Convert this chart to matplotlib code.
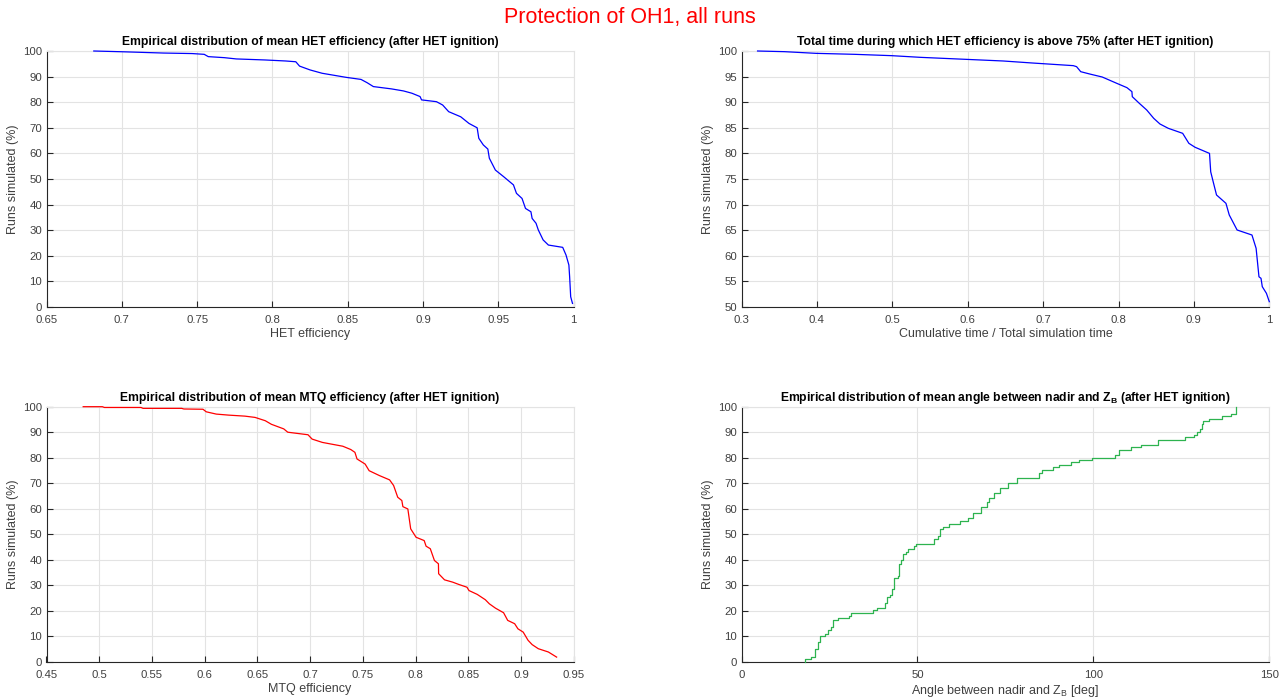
import matplotlib
matplotlib.use("Agg")
import matplotlib.pyplot as plt
from matplotlib.ticker import FuncFormatter

plt.rcParams['font.family'] = ['Liberation Sans', 'DejaVu Sans']
plt.rcParams['mathtext.fontset'] = 'custom'
plt.rcParams['mathtext.rm'] = 'Liberation Sans'
plt.rcParams['mathtext.it'] = 'Liberation Sans:italic'
plt.rcParams['mathtext.bf'] = 'Liberation Sans:bold'

# ---- data: mean HET efficiency (complementary distribution) ----
het_eff = [0.6814, 0.7006, 0.7276, 0.7466, 0.7547, 0.7574, 0.768, 0.776, 0.795, 0.8088,
           0.8155, 0.818, 0.825, 0.833, 0.849, 0.8588, 0.8629, 0.867, 0.879, 0.887,
           0.8926, 0.898, 0.899, 0.9089, 0.913, 0.917, 0.925, 0.9305, 0.9359, 0.937,
           0.940, 0.943, 0.944, 0.948, 0.9535, 0.960, 0.962, 0.9657, 0.968, 0.9716,
           0.9724, 0.975, 0.9765, 0.9797, 0.9832, 0.9927, 0.9949, 0.9968, 0.9973, 0.998,
           0.9992]
het_pct = [100, 99.7, 99.2, 99.0, 98.7, 97.8, 97.4, 96.9, 96.5, 96.1,
           95.8, 94.1, 92.6, 91.3, 89.7, 88.9, 87.6, 86.1, 85.2, 84.4,
           83.5, 82.2, 80.9, 80.2, 78.9, 76.3, 74.3, 71.7, 70.0, 65.9,
           63.3, 61.7, 58.1, 53.5, 50.9, 47.7, 44.4, 42.4, 38.5, 37.2,
           34.6, 32.7, 30.1, 26.2, 24.2, 23.3, 20.3, 16.4, 11.8, 4.0,
           1.4]

# ---- data: time fraction with HET efficiency above 75% ----
time_frac = [0.3213, 0.357, 0.399, 0.45, 0.499, 0.5375, 0.5977, 0.647, 0.6853, 0.699,
             0.740, 0.7444, 0.7499, 0.762, 0.7784, 0.7975, 0.8112, 0.8178, 0.8183, 0.8276,
             0.8374, 0.8467, 0.855, 0.866, 0.8851, 0.8933, 0.9015, 0.9207, 0.9223, 0.9261,
             0.93, 0.9425, 0.9469, 0.9573, 0.977, 0.9825, 0.9863, 0.989, 0.9907, 0.9962,
             1.0]
time_pct = [100, 99.87, 99.54, 99.35, 99.09, 98.76, 98.37, 98.05, 97.66, 97.53,
            97.14, 96.94, 95.96, 95.5, 94.92, 93.7, 92.84, 92.06, 91.08, 89.78,
            88.48, 86.85, 85.74, 84.9, 83.92, 81.97, 81.2, 80.0, 76.4, 74.15,
            71.88, 70.25, 67.97, 65.04, 64.06, 61.46, 55.9, 55.6, 53.97, 52.67,
            51.04]

# ---- data: mean MTQ efficiency (complementary distribution) ----
mtq_eff = [0.4848, 0.503, 0.5049, 0.5396, 0.5416, 0.5783, 0.5802, 0.5984, 0.6015, 0.611,
           0.6227, 0.6382, 0.6478, 0.6575, 0.6633, 0.675, 0.6788, 0.6845, 0.698, 0.7019,
           0.7116, 0.7193, 0.731, 0.7386, 0.7425, 0.7445, 0.7522, 0.756, 0.7657, 0.7754,
           0.7792, 0.7831, 0.787, 0.788, 0.7927, 0.7954, 0.8005, 0.8082, 0.810, 0.814,
           0.8179, 0.8217, 0.8219, 0.8275, 0.8352, 0.841, 0.8488, 0.8507, 0.8585, 0.8662,
           0.87, 0.8758, 0.8835, 0.8874, 0.894, 0.8971, 0.9021, 0.9067, 0.9106, 0.9164,
           0.926, 0.9338]
mtq_pct = [100, 100, 99.7, 99.7, 99.35, 99.35, 99.1, 99.0, 98.0, 97.1,
           96.7, 96.3, 95.8, 94.5, 93.1, 91.3, 90.0, 89.7, 89.0, 87.3,
           86.0, 85.4, 84.5, 83.2, 82.1, 79.5, 77.5, 74.9, 73.0, 71.3,
           69.1, 64.5, 63.2, 60.8, 59.9, 52.1, 48.8, 47.5, 45.3, 44.3,
           39.7, 38.4, 34.5, 32.1, 31.2, 30.3, 29.2, 27.9, 26.4, 24.3,
           22.7, 21.0, 19.2, 16.2, 14.9, 12.9, 11.6, 8.4, 6.7, 5.1,
           3.8, 1.8]

# ---- data: mean angle between nadir and Z_B (empirical CDF, steps) ----
angle_deg = [18.1, 18.1, 19.8, 21.0, 21.6, 22.4, 23.6, 24.7, 25.3, 26.0,
             27.4, 30.6, 31.2, 37.4, 38.6, 40.9, 41.3, 42.1, 42.7, 43.3,
             44.4, 44.8, 45.4, 46.0, 46.8, 47.4, 49.1, 49.7, 54.6, 55.8,
             56.5, 57.3, 59.1, 62.0, 64.4, 65.9, 68.2, 69.7, 70.3, 71.7,
             73.5, 75.8, 78.2, 84.6, 85.5, 88.4, 90.2, 93.7, 96.0, 99.6,
             106.2, 107.4, 110.7, 113.6, 118.3, 126.0, 128.6, 129.5, 130.4, 130.9,
             131.2, 133.0, 136.5, 139.2, 140.4]
angle_pct = [0, 1, 2, 5, 7.7, 10, 11, 12.3, 13.6, 16.2,
             17, 18.1, 19.2, 20.1, 21, 23, 25.3, 26, 28.6, 32.8,
             33.8, 38.4, 39.7, 42.3, 43.2, 44.3, 45.2, 46.2, 48.2, 49.1,
             52.1, 53.0, 54.0, 55.1, 56.4, 58.2, 60.6, 62.5, 64.2, 66.2,
             68.1, 70.1, 72.1, 73.9, 75.2, 76.2, 77.2, 78.2, 79.1, 79.9,
             81.2, 83.2, 84.1, 85.1, 86.9, 88.0, 88.9, 90.2, 91.3, 93.2,
             94.3, 95.2, 96.2, 97.1, 100]

W, H = 1287, 697
fig = plt.figure(figsize=(W / 100, H / 100), dpi=100)

def box(l, t, r, b):
    return [l / W, 1 - b / H, (r - l) / W, (b - t) / H]

AX_COL = '#262626'
TICK_COL = '#404040'
GRID_COL = '#e3e3e3'
TITLE_FS = 8.7
LABEL_FS = 9

def style(ax):
    ax.grid(True, color=GRID_COL, linewidth=0.8)
    ax.set_axisbelow(True)
    for s in ['top', 'right']:
        ax.spines[s].set_color(GRID_COL)
        ax.spines[s].set_linewidth(0.8)
    for s in ['left', 'bottom']:
        ax.spines[s].set_color(AX_COL)
        ax.spines[s].set_linewidth(0.8)
    ax.tick_params(direction='in', length=4, width=0.8, color=AX_COL,
                   labelsize=8.2, labelcolor=TICK_COL,
                   top=False, right=False)
    ax.tick_params(axis='x', pad=6)
    ax.tick_params(axis='y', pad=3)

gfmt = FuncFormatter(lambda v, p: '%g' % round(v, 6))

def finish(ax, xlabel, title):
    ax.set_xlabel(xlabel, fontsize=LABEL_FS, color=TICK_COL, labelpad=2)
    ax.set_ylabel('Runs simulated (%)', fontsize=LABEL_FS, color=TICK_COL, labelpad=3)
    ax.set_title(title, fontsize=TITLE_FS, fontweight='bold', pad=4)
    style(ax)

LEFT = (46.5, 573.7)
RIGHT = (741.5, 1269.3)
TOP = (51, 307)
BOT = (406.7, 661.7)

# Top-left
ax1 = fig.add_axes(box(LEFT[0], TOP[0], LEFT[1], TOP[1]))
ax1.plot(het_eff, het_pct, color='#0000ff', linewidth=0.9, clip_on=False, zorder=3)
ax1.set_xlim(0.65, 1.0)
ax1.set_ylim(0, 100)
ax1.set_xticks([0.65, 0.7, 0.75, 0.8, 0.85, 0.9, 0.95, 1.0])
ax1.set_yticks(range(0, 101, 10))
ax1.xaxis.set_major_formatter(gfmt)
finish(ax1, 'HET efficiency',
       'Empirical distribution of mean HET efficiency (after HET ignition)')

# Top-right
ax2 = fig.add_axes(box(RIGHT[0], TOP[0], RIGHT[1], TOP[1]))
ax2.plot(time_frac, time_pct, color='#0000ff', linewidth=0.9, clip_on=False, zorder=3)
ax2.set_xlim(0.3, 1.0)
ax2.set_ylim(50, 100)
ax2.set_xticks([0.3, 0.4, 0.5, 0.6, 0.7, 0.8, 0.9, 1.0])
ax2.set_yticks(range(50, 101, 5))
ax2.xaxis.set_major_formatter(gfmt)
finish(ax2, 'Cumulative time / Total simulation time',
       'Total time during which HET efficiency is above 75% (after HET ignition)')

# Bottom-left
ax3 = fig.add_axes(box(LEFT[0], BOT[0], LEFT[1], BOT[1]))
ax3.plot(mtq_eff, mtq_pct, color='#ff0000', linewidth=0.9, clip_on=False, zorder=3)
ax3.set_xlim(0.45, 0.95)
ax3.set_ylim(0, 100)
ax3.set_xticks([0.45, 0.5, 0.55, 0.6, 0.65, 0.7, 0.75, 0.8, 0.85, 0.9, 0.95])
ax3.set_yticks(range(0, 101, 10))
ax3.xaxis.set_major_formatter(gfmt)
finish(ax3, 'MTQ efficiency',
       'Empirical distribution of mean MTQ efficiency (after HET ignition)')

# Bottom-right
ax4 = fig.add_axes(box(RIGHT[0], BOT[0], RIGHT[1], BOT[1]))
ax4.plot(angle_deg, angle_pct, color='#2db34f', linewidth=0.9, drawstyle='steps-post',
         clip_on=False, zorder=3)
ax4.set_xlim(0, 150)
ax4.set_ylim(0, 100)
ax4.set_xticks([0, 50, 100, 150])
ax4.set_yticks(range(0, 101, 10))
finish(ax4, r'Angle between nadir and Z$_\mathrm{B}$ [deg]',
       r'Empirical distribution of mean angle between nadir and Z$_\mathbf{B}$ (after HET ignition)')

fig.text(630 / W, 1 - 17 / H, 'Protection of OH1, all runs', color='#ff0000',
         fontsize=15.5, ha='center', va='center')

fig.savefig('out.png', dpi=100, facecolor='white')
